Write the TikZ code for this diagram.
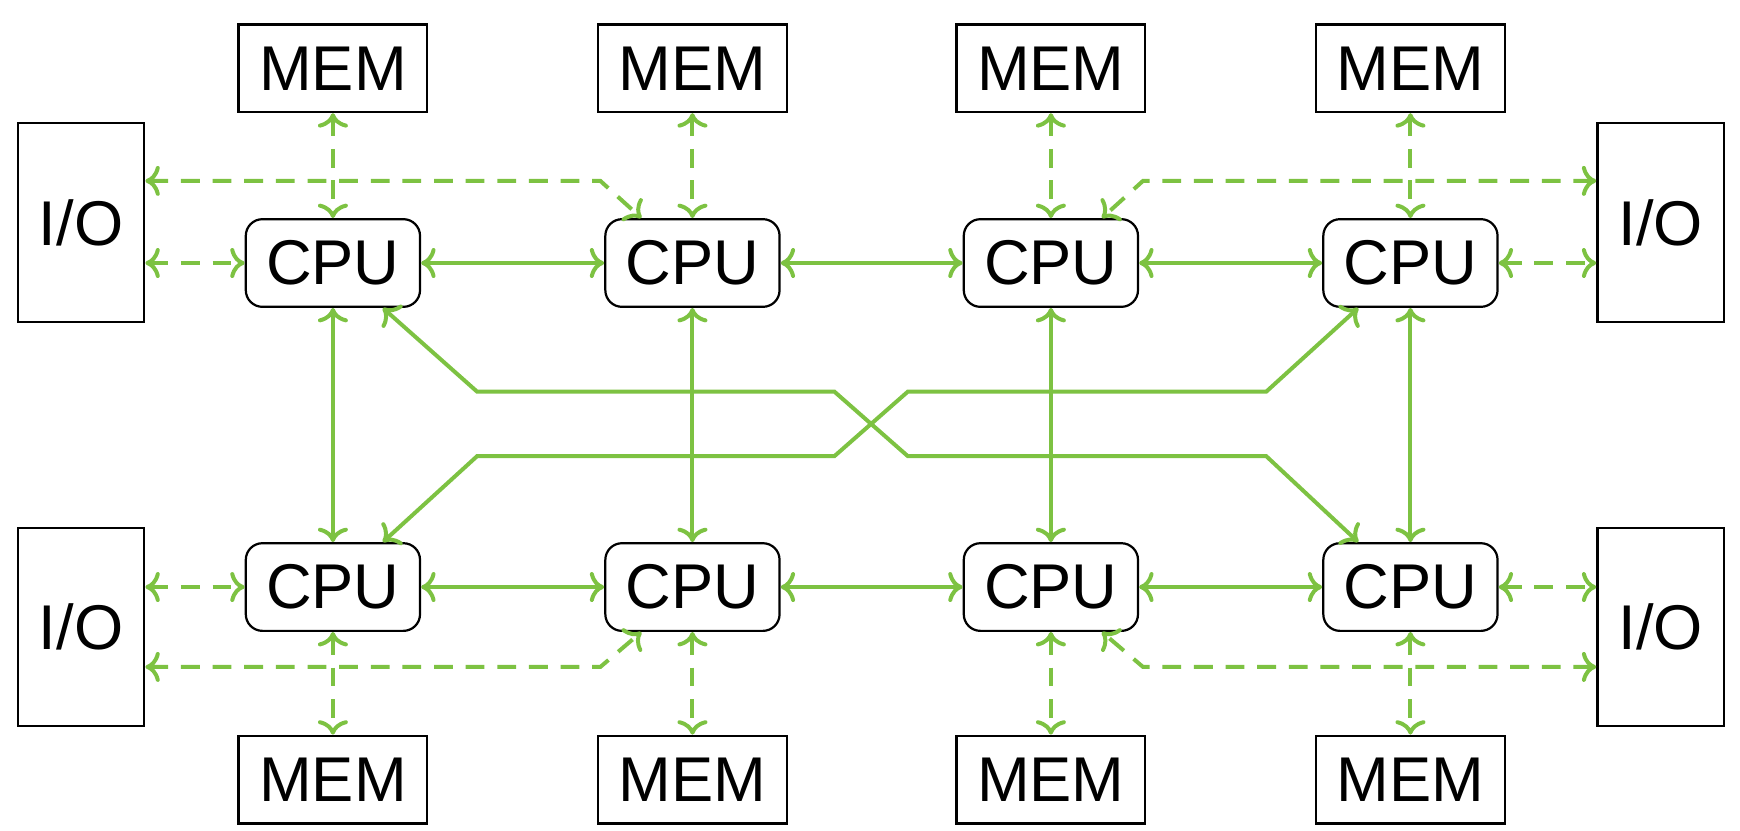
\documentclass[tikz,border=0pt]{standalone}
\usepackage{fontspec}
\setmainfont{Liberation Sans}
\usetikzlibrary{arrows.meta,calc}
\definecolor{lgreen}{RGB}{125,194,66}
\begin{document}
\begin{tikzpicture}[x=1pt,y=-1pt,
  lbl/.style={font=\fontsize{57}{60}\selectfont,inner sep=0pt,line width=2pt,draw=black},
  membox/.style={lbl,minimum width=170pt,minimum height=79pt},
  cpubox/.style={lbl,rounded corners=15pt,minimum width=157pt,minimum height=79pt},
  iobox/.style={lbl,minimum width=114pt,minimum height=179pt},
  conn/.style={draw=lgreen,line width=3.6pt,{To[length=13pt,width=27pt]}-{To[length=13pt,width=27pt]}},
  dconn/.style={conn,dash pattern=on 17pt off 11.5pt}]
\useasboundingbox (0,0) rectangle (1568,748);
% memory
\node[membox] (m1) at (300,61.5) {MEM};
\node[membox] (m2) at (624,61.5) {MEM};
\node[membox] (m3) at (947,61.5) {MEM};
\node[membox] (m4) at (1271,61.5) {MEM};
\node[membox] (m5) at (300,702.5) {MEM};
\node[membox] (m6) at (624,702.5) {MEM};
\node[membox] (m7) at (947,702.5) {MEM};
\node[membox] (m8) at (1271,702.5) {MEM};
% cpus
\node[cpubox] (c1) at (300,237) {CPU};
\node[cpubox] (c2) at (624,237) {CPU};
\node[cpubox] (c3) at (947,237) {CPU};
\node[cpubox] (c4) at (1271,237) {CPU};
\node[cpubox] (c5) at (300,529) {CPU};
\node[cpubox] (c6) at (624,529) {CPU};
\node[cpubox] (c7) at (947,529) {CPU};
\node[cpubox] (c8) at (1271,529) {CPU};
% io
\node[iobox] (io1) at (73,200.5) {I/O};
\node[iobox] (io2) at (73,565) {I/O};
\node[iobox] (io3) at (1496.5,200.5) {I/O};
\node[iobox] (io4) at (1496.5,565) {I/O};
% bend points
\coordinate (ta) at (541,163);
\coordinate (tb) at (1030,163);
\coordinate (ba) at (541,601);
\coordinate (bb) at (1030,601);
\coordinate (x1) at (430,353);
\coordinate (x2) at (752,353);
\coordinate (x3) at (818,411);
\coordinate (x4) at (1141,411);
\coordinate (y1) at (430,411);
\coordinate (y2) at (752,411);
\coordinate (y3) at (818,353);
\coordinate (y4) at (1141,353);
% solid links
\foreach \a/\b in {c1/c2,c2/c3,c3/c4,c5/c6,c6/c7,c7/c8}
  \draw[conn] (\a.east) -- (\b.west);
\foreach \a/\b in {c1/c5,c2/c6,c3/c7,c4/c8}
  \draw[conn] (\a.south) -- (\b.north);
\draw[conn] ($(c1.south)+(45,0)$) -- (x1) -- (x2) -- (x3) -- (x4) -- ($(c8.north)+(-47,0)$);
\draw[conn] ($(c5.north)+(45,0)$) -- (y1) -- (y2) -- (y3) -- (y4) -- ($(c4.south)+(-47,0)$);
% memory links
\foreach \m/\c in {m1/c1,m2/c2,m3/c3,m4/c4}
  \draw[dconn] (\m.south) -- (\c.north);
\foreach \m/\c in {m5/c5,m6/c6,m7/c7,m8/c8}
  \draw[dconn] (\c.south) -- (\m.north);
% io links
\draw[dconn] (io1.east |- c1.west) -- (c1.west);
\draw[dconn] (io2.east |- c5.west) -- (c5.west);
\draw[dconn] (c4.east) -- (io3.west |- c4.east);
\draw[dconn] (c8.east) -- (io4.west |- c8.east);
\draw[dconn] (io1.east |- ta) -- (ta) -- ($(c2.north)+(-46,0)$);
\draw[dconn] (io3.west |- tb) -- (tb) -- ($(c3.north)+(46,0)$);
\draw[dconn] (io2.east |- ba) -- (ba) -- ($(c6.south)+(-46,0)$);
\draw[dconn] (io4.west |- bb) -- (bb) -- ($(c7.south)+(46,0)$);
\end{tikzpicture}
\end{document}
